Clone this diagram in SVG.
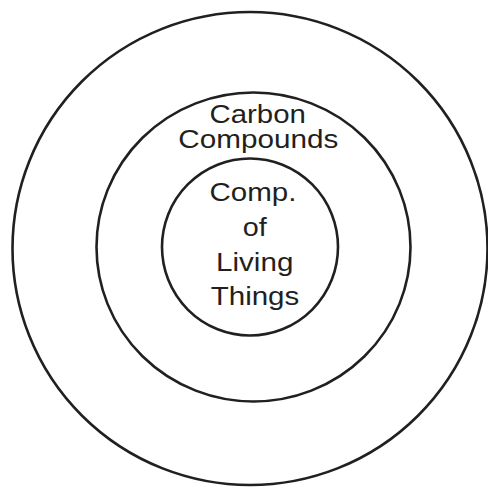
<svg xmlns="http://www.w3.org/2000/svg" width="488" height="487" viewBox="0 0 488 487">
<style>
.ring{fill:none;stroke:#231f20;stroke-width:2.6}
.lbl{font-family:"Liberation Sans",Arial,sans-serif;font-size:25.5px;fill:#231f20;text-anchor:middle}
</style>
<rect width="488" height="487" fill="#fff"/>
<g id="outer">
<ellipse class="ring" cx="250" cy="248.5" rx="237.5" ry="236.5"/>
</g>
<g id="carbon-compounds">
<ellipse class="ring" cx="253.5" cy="247" rx="157" ry="154.5"/>
<text class="lbl" x="257.7" y="123" textLength="96.5" lengthAdjust="spacingAndGlyphs">Carbon</text>
<text class="lbl" x="258.3" y="148" textLength="160" lengthAdjust="spacingAndGlyphs">Compounds</text>
</g>
<g id="comp-living-things">
<ellipse class="ring" cx="250" cy="247" rx="88" ry="88.5"/>
<text class="lbl" x="253" y="201" textLength="87" lengthAdjust="spacingAndGlyphs">Comp.</text>
<text class="lbl" x="254.7" y="235.5" textLength="24" lengthAdjust="spacingAndGlyphs">of</text>
<text class="lbl" x="254.7" y="270.5" textLength="77.3" lengthAdjust="spacingAndGlyphs">Living</text>
<text class="lbl" x="255" y="305" textLength="88.6" lengthAdjust="spacingAndGlyphs">Things</text>
</g>
<g id="connectors"/>
</svg>
